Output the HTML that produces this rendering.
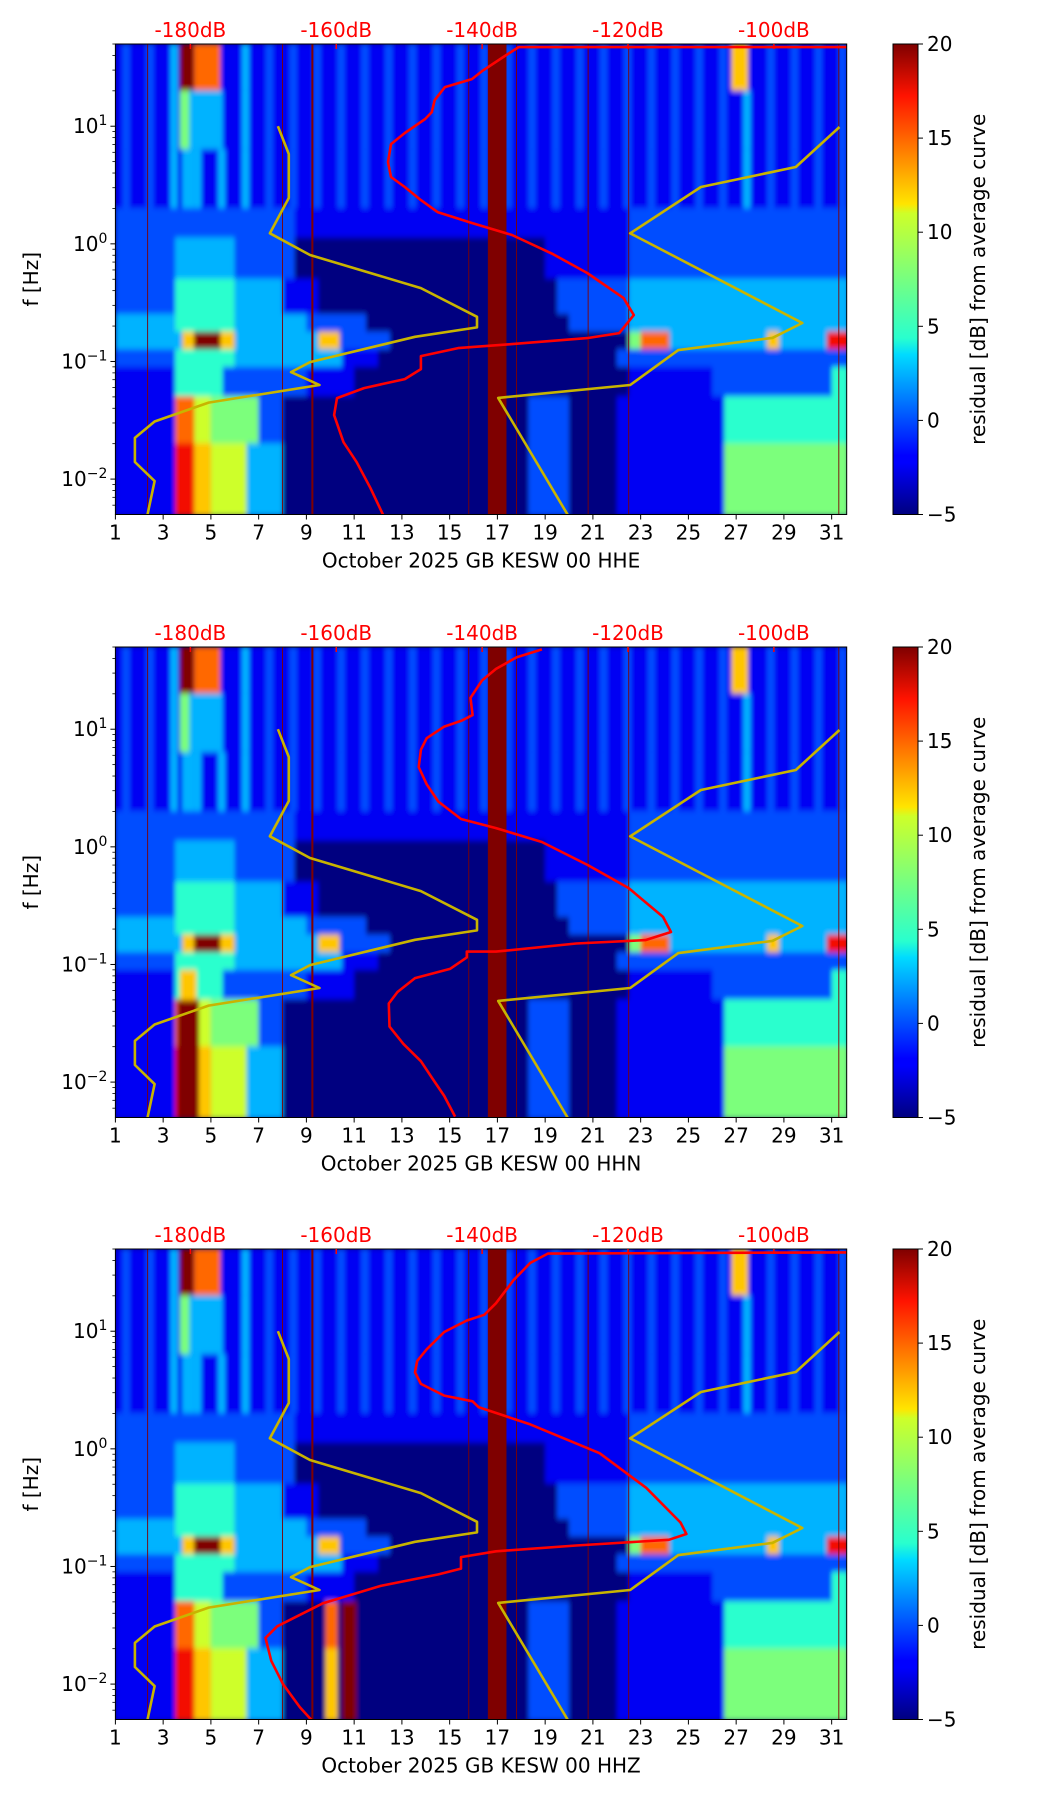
<!DOCTYPE html>
<html><head><meta charset="utf-8">
<style>
html,body{margin:0;padding:0;background:#fff;}
svg{display:block;font-family:"DejaVu Sans","Liberation Sans",sans-serif;}
</style></head>
<body>
<svg id="fig" width="1052" height="1806" viewBox="0 0 1052 1806" xmlns="http://www.w3.org/2000/svg">
<defs>
<linearGradient id="jet" x1="0" y1="1" x2="0" y2="0">
<stop offset="0" stop-color="#00007f"/><stop offset="0.11" stop-color="#0000ff"/>
<stop offset="0.125" stop-color="#0000ff"/><stop offset="0.34" stop-color="#00dbff"/>
<stop offset="0.375" stop-color="#29ffce"/><stop offset="0.64" stop-color="#ceff29"/>
<stop offset="0.66" stop-color="#ffe500"/><stop offset="0.89" stop-color="#ff1300"/>
<stop offset="1" stop-color="#7f0000"/>
</linearGradient>
<filter id="soft" x="-5%" y="-5%" width="110%" height="110%"><feGaussianBlur stdDeviation="2 3"/></filter>
</defs>
</svg>
<script>
// ---- data ----
const dayMin = 1, dayMax = 31.63;
const logFMin = -2.301, logFMax = 1.699;
const xTicks = [1,3,5,7,9,11,13,15,17,19,21,23,25,27,29,31];
const yTickExp = [-2,-1,0,1];
const dbTicks = [-180,-160,-140,-120,-100];
const cbTicks = [-5,0,5,10,15,20];
// heatmap rows: [top logf, bottom logf]; segments [startDay, endDay, code], code k -> -5+2.5k, 'a' = 20
const rowBounds = [[1.7,1.3],[1.3,0.8],[0.8,0.3],[0.3,0.05],[0.05,-0.3],[-0.3,-0.6],[-0.6,-0.75],[-0.75,-0.9],[-0.9,-1.05],[-1.05,-1.3],[-1.3,-1.7],[-1.7,-2.31]];
const rowSegs = [
 [[1,31.7,"1"],[3.7,4.3,"a"],[4.3,5.4,"8"],[26.8,27.5,"7"]],
 [[1,31.7,"1"],[3.7,4.1,"5"],[4.1,5.5,"3"]],
 [[1,31.7,"1"],[3.8,4.3,"3"]],
 [[1,8.5,"2"],[8.5,22.5,"1"],[22.5,31.7,"2"]],
 [[1,3.5,"2"],[3.5,6,"3"],[6,8.5,"2"],[8.5,19,"0"],[19,22.5,"1"],[22.5,31.7,"2"]],
 [[1,3.5,"2"],[3.5,6,"4"],[6,8,"3"],[8,9.5,"1"],[9.5,19.5,"0"],[19.5,22.5,"2"],[22.5,31.7,"3"]],
 [[1,3.5,"3"],[3.5,6,"4"],[6,9,"3"],[9,11.5,"2"],[11.5,20,"0"],[20,22.5,"2"],[22.5,31.7,"3"]],
 [[1,3.8,"3"],[3.8,4.3,"7"],[4.3,5.4,"a"],[5.4,6,"7"],[6,9.5,"3"],[9.5,10.4,"7"],[10.4,12.5,"2"],[12.5,22.5,"0"],[22.5,23,"5"],[23,24.2,"8"],[24.2,28.3,"3"],[28.3,28.8,"7"],[28.8,30.8,"3"],[30.8,31.7,"9"]],
 [[1,3.5,"2"],[3.5,6,"4"],[6,10.5,"3"],[10.5,12,"1"],[12,22,"0"],[22,31.7,"2"]],
 [[1,3.5,"1"],[3.5,5.5,"4"],[5.5,9,"2"],[9,11,"1"],[11,22.5,"0"],[22.5,26,"1"],[26,31,"2"],[31,31.7,"4"]],
 [[1,3.5,"1"],[3.5,4.3,"8"],[4.3,5,"6"],[5,7,"5"],[7,8,"2"],[8,18.3,"0"],[18.3,20,"2"],[20,22,"0"],[22,26.5,"1"],[26.5,31.7,"4"]],
 [[1,3.5,"1"],[3.5,4.3,"9"],[4.3,5,"7"],[5,6.5,"6"],[6.5,8,"3"],[8,18.3,"0"],[18.3,20,"2"],[20,22,"0"],[22,26.5,"1"],[26.5,31.7,"5"]]
];
// diurnal stripes in the upper three rows: day, code
const stripeDays = [1,2,3,4,5,6,7,8,9,10,11,12,13,14,15,16,17,18,19,20,21,22,23,24,25,26,27,28,29,30,31];
const stripeCodes = ["2","2","3","3","3","3","2","2","2","2","2","2","2","2","2","2","2","2","2","2","2","2","2","2","2","2","3","2","2","2","2"];
const gapDays = [16.6, 17.38];
const redLineDays = [2.35, 8.0, 9.25, 15.8, 17.8, 20.8, 22.5, 31.3];
// per-panel overrides: [row, startDay, endDay, code]
const panelOverrides = [
 [],
 [[10,3.6,4.5,"a"],[11,3.6,4.5,"a"],[9,3.7,4.4,"7"]],
 [[10,9.8,10.3,"8"],[11,9.8,10.3,"7"],[10,10.5,11.1,"a"],[11,10.5,11.1,"a"]]
];
// noise models (dB, log10 f)
const nlnmDb = [-168.0,-166.5,-166.5,-169.1,-163.6,-148.4,-140.7,-140.7,-149.2,-163.6,-166.2,-162.3,-177.5,-184.9,-187.6,-187.6,-184.9,-185.9];
const nlnmLogF = [1.0,0.764,0.39,0.09,-0.095,-0.376,-0.62,-0.71,-0.79,-1.005,-1.09,-1.20,-1.35,-1.51,-1.65,-1.855,-2.017,-2.31];
const nhnmDb = [-91.0,-97.0,-110.0,-119.7,-96.1,-100.2,-113.1,-119.7,-137.8,-128.2];
const nhnmLogF = [0.993,0.653,0.483,0.09,-0.673,-0.80,-0.903,-1.20,-1.31,-2.31];
// median PSD per channel
const redDbHHE = [-80,-135.0,-137.3,-140.0,-141.4,-145.1,-146.5,-146.9,-147.8,-150.6,-152.5,-152.9,-152.5,-150.6,-148.4,-146.1,-141.4,-135.9,-130.3,-125.6,-120.6,-119.2,-121.2,-125.6,-135.9,-143.3,-148.4,-148.4,-150.6,-156.2,-159.9,-160.3,-159.0,-157.2,-155.3,-153.5];
const redLogFHHE = [1.673,1.673,1.580,1.469,1.401,1.333,1.222,1.120,1.061,0.942,0.848,0.695,0.568,0.483,0.372,0.270,0.177,0.075,-0.087,-0.248,-0.461,-0.606,-0.759,-0.801,-0.852,-0.886,-0.954,-1.065,-1.150,-1.226,-1.311,-1.456,-1.686,-1.856,-2.077,-2.315];
const redDbHHN = [-131.8,-135.3,-138.1,-140.0,-141.6,-141.3,-142.9,-145.2,-147.6,-148.4,-148.7,-147.6,-146.0,-142.9,-138.1,-131.8,-125.5,-119.9,-115.2,-114.1,-117.6,-127.1,-138.1,-142.1,-142.1,-144.4,-149.2,-151.6,-152.8,-152.7,-150.8,-148.4,-146.8,-145.2,-143.7];
const redLogFHHN = [1.679,1.611,1.513,1.415,1.267,1.120,1.071,1.022,0.924,0.826,0.679,0.532,0.385,0.237,0.159,0.041,-0.155,-0.351,-0.596,-0.724,-0.793,-0.822,-0.891,-0.891,-0.940,-1.038,-1.116,-1.234,-1.332,-1.528,-1.675,-1.822,-1.970,-2.117,-2.293];
const redDbHHZ = [-80,-131.0,-133.4,-135.7,-138.1,-139.7,-142.1,-145.2,-147.6,-148.9,-149.2,-148.4,-145.2,-141.3,-140.5,-133.4,-123.9,-117.5,-112.8,-112.0,-114.4,-127.1,-138.1,-142.9,-142.9,-146.0,-153.9,-161.8,-168.1,-169.7,-168.9,-167.3,-165.0,-163.4];
const redLogFHHZ = [1.673,1.660,1.581,1.434,1.238,1.140,1.091,0.993,0.846,0.748,0.650,0.552,0.453,0.404,0.355,0.208,-0.037,-0.331,-0.626,-0.724,-0.773,-0.822,-0.871,-0.920,-1.018,-1.067,-1.165,-1.312,-1.509,-1.607,-1.803,-2.000,-2.196,-2.304];
const panelNames = ["HHE","HHN","HHZ"];
const panelTops = [44, 647, 1249];
const redDb = [redDbHHE, redDbHHN, redDbHHZ];
const redLogF = [redLogFHHE, redLogFHHN, redLogFHHZ];

// ---- layout ----
const NS = "http://www.w3.org/2000/svg";
const svg = document.getElementById("fig");
const PL = 115.4, PW = 731.3, PH = 470.5;
const CBX = 893, CBW = 25;
const FS = 20;
function mk(tag, attrs, parent){ const e=document.createElementNS(NS,tag); for(const k in attrs) e.setAttribute(k,attrs[k]); (parent||svg).appendChild(e); return e; }
function jet(v){
  const t=Math.max(0,Math.min(1,(v+5)/25));
  function interp(pts){ for(let i=1;i<pts.length;i++){ if(t<=pts[i][0]){ const a=pts[i-1],b=pts[i]; return a[1]+(b[1]-a[1])*(t-a[0])/(b[0]-a[0]); } } return pts[pts.length-1][1]; }
  const r=interp([[0,0],[0.35,0],[0.66,1],[0.89,1],[1,0.5]]);
  const g=interp([[0,0],[0.125,0],[0.375,1],[0.64,1],[0.91,0],[1,0]]);
  const b=interp([[0,0.5],[0.11,1],[0.34,1],[0.65,0],[1,0]]);
  return `rgb(${Math.round(r*255)},${Math.round(g*255)},${Math.round(b*255)})`;
}
function codeVal(c){ return c==="a" ? 20 : -5+2.5*parseInt(c,10); }

panelNames.forEach((nm, p) => {
  const top = panelTops[p];
  const xs = d => PL + (d-dayMin)/(dayMax-dayMin)*PW;
  const ys = lf => top + (logFMax-lf)/(logFMax-logFMin)*PH;
  const dbDay = db => 4.14 + (db+180)*0.3055;
  const g = mk("g", {});
  
  
  const cid = "clip"+p;
  const cp = mk("clipPath",{id:cid},g); mk("rect",{x:PL,y:top,width:PW,height:PH},cp);
  mk("rect",{x:PL,y:top,width:PW,height:PH,fill:"#00007f"},g);
  const hm = mk("g",{"clip-path":`url(#${cid})`},g);
  
  
  const hmInner = mk("g",{filter:"url(#soft)"},hm);
  function cell(r, d0, d1, c){
    const y0 = ys(rowBounds[r][0]), y1 = ys(rowBounds[r][1]);
    const el = mk("rect",{x:xs(d0),y:y0-0.5,width:Math.max(0.5,xs(d1)-xs(d0)),height:y1-y0+1,fill:jet(codeVal(c))},hmInner);
    
    
  }
  rowSegs.forEach((segs, r) => {
    segs.forEach(s => cell(r, s[0], s[1], s[2]));
    if (r <= 2) {
      stripeDays.forEach((d,i) => {
        const inHot = rowSegs[r].slice(1).some(s => d+0.35 >= s[0] && d+0.35 < s[1]);
        if (!inHot) cell(r, d+0.3, d+0.6, stripeCodes[i]);
      });
    }
  });
  panelOverrides[p].forEach(o => cell(o[0], o[1], o[2], o[3]));
  redLineDays.forEach(d=>{
    const l = mk("line",{x1:xs(d),x2:xs(d),y1:top,y2:top+PH,stroke:"#7f0000","stroke-width":d===9.25?2:0.9},hm);
    
    
  });
  const gap = mk("rect",{x:xs(gapDays[0]),y:top,width:xs(gapDays[1])-xs(gapDays[0]),height:PH,fill:"#7f0000"},hm);
  
  
  const cv = mk("g",{"clip-path":`url(#${cid})`},g);
  function poly(dbs, lfs, color, name){
    const pts = dbs.map((db,i)=>xs(dbDay(db)).toFixed(1)+","+ys(lfs[i]).toFixed(1)).join(" ");
    const pl = mk("polyline",{points:pts,fill:"none",stroke:color,"stroke-width":2.6,"stroke-linejoin":"round"},cv);
    
    
  }
  poly(nlnmDb,nlnmLogF,"#c8b400","nlnm-curve");
  poly(nhnmDb,nhnmLogF,"#c8b400","nhnm-curve");
  poly(redDb[p],redLogF[p],"#ff0000","median-psd-curve");
  mk("rect",{x:PL,y:top,width:PW,height:PH,fill:"none",stroke:"#000","stroke-width":1},g);
  xTicks.forEach(d=>{
    mk("line",{x1:xs(d),x2:xs(d),y1:top+PH,y2:top+PH+5,stroke:"#000"},g);
    const t = mk("text",{x:xs(d),y:top+PH+25,"text-anchor":"middle","font-size":FS},g); t.textContent=d;
    
    
  });
  const xl = mk("text",{x:PL+PW/2,y:top+PH+53,"text-anchor":"middle","font-size":FS},g);
  xl.textContent = "October 2025 GB KESW 00 "+nm;
  
  
  yTickExp.forEach(e=>{
    const y = ys(e);
    mk("line",{x1:PL-5,x2:PL,y1:y,y2:y,stroke:"#000"},g);
    const t = mk("text",{x:PL-8,y:y+7,"text-anchor":"end","font-size":FS},g);
    t.innerHTML = `10<tspan dy="-8" font-size="14">${e<0?"\u2212"+(-e):e}</tspan>`;
    
    
  });
  for (let e=-3;e<=1;e++) for (let m=2;m<=9;m++){
    const lf = e+Math.log10(m); if(lf<logFMin||lf>logFMax) continue;
    mk("line",{x1:PL-3,x2:PL,y1:ys(lf),y2:ys(lf),stroke:"#000","stroke-width":0.8},g);
  }
  const yl = mk("text",{x:0,y:0,"text-anchor":"middle","font-size":FS,transform:`translate(38,${top+PH/2}) rotate(-90)`},g);
  yl.textContent = "f [Hz]";
  
  
  dbTicks.forEach(db=>{
    const x = xs(dbDay(db));
    mk("line",{x1:x,x2:x,y1:top,y2:top+5,stroke:"#ff0000","stroke-width":1.5},g);
    const t = mk("text",{x:x,y:top-7,"text-anchor":"middle","font-size":FS,fill:"#ff0000"},g);
    t.textContent = db+"dB";
    
    
  });
  const cb = mk("rect",{x:CBX,y:top,width:CBW,height:PH,fill:"url(#jet)",stroke:"#000","stroke-width":1},g);
  
  
  cbTicks.forEach(v=>{
    const y = top + PH - (v+5)/25*PH;
    mk("line",{x1:CBX+CBW,x2:CBX+CBW+5,y1:y,y2:y,stroke:"#000"},g);
    const t = mk("text",{x:CBX+CBW+9,y:y+7,"font-size":FS},g);
    t.textContent = v<0?"\u2212"+(-v):v;
    
    
  });
  const cl = mk("text",{x:0,y:0,"text-anchor":"middle","font-size":FS,transform:`translate(985,${top+PH/2}) rotate(-90)`},g);
  cl.textContent = "residual [dB] from average curve";
  
  
});
</script>
</body></html>
